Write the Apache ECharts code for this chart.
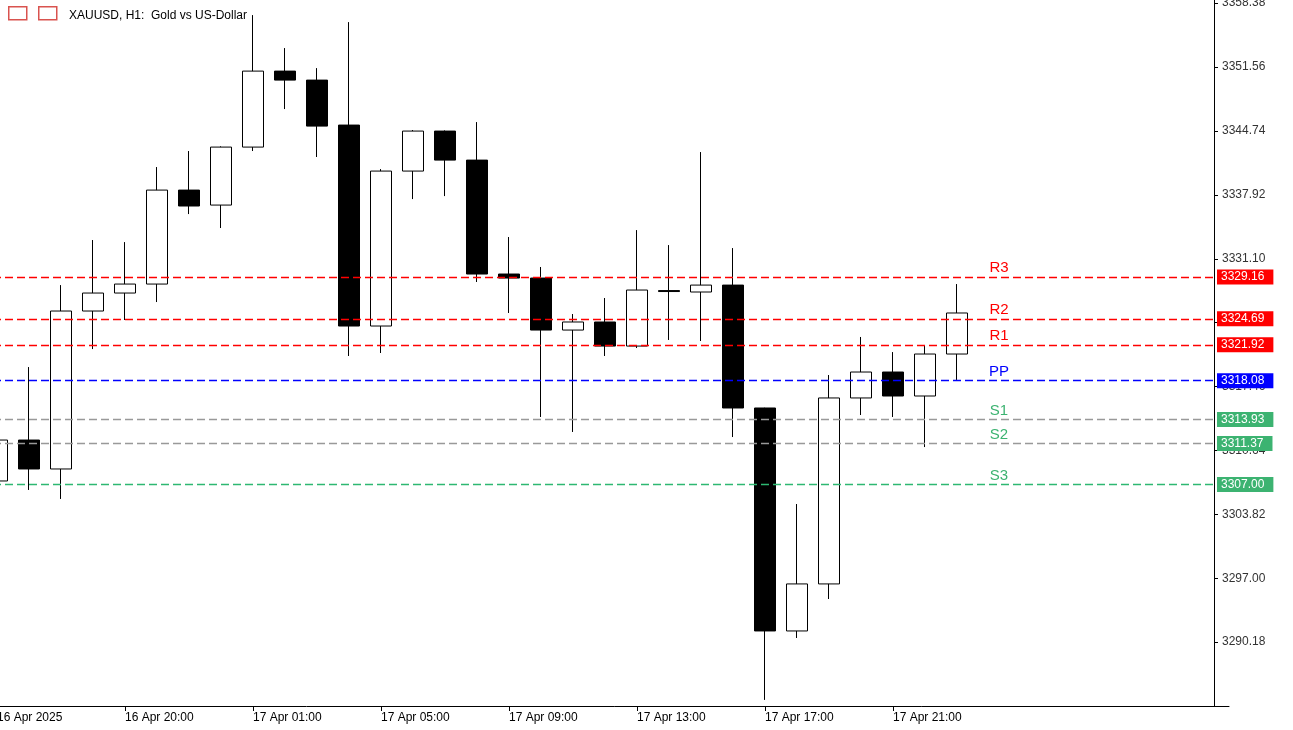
<!DOCTYPE html>
<html><head><meta charset="utf-8">
<script src="https://cdn.jsdelivr.net/npm/echarts@6/dist/echarts.min.js"></script>
<style>html,body{margin:0;padding:0;background:#fff}#c{width:1293px;height:730px}</style>
</head><body><div id="c"></div>
<script>
const categories = ['16 Apr 16:00','16 Apr 17:00','16 Apr 18:00','16 Apr 19:00','16 Apr 20:00','16 Apr 21:00','16 Apr 22:00','16 Apr 23:00',
 '17 Apr 01:00','17 Apr 02:00','17 Apr 03:00','17 Apr 04:00','17 Apr 05:00','17 Apr 06:00','17 Apr 07:00','17 Apr 08:00',
 '17 Apr 09:00','17 Apr 10:00','17 Apr 11:00','17 Apr 12:00','17 Apr 13:00','17 Apr 14:00','17 Apr 15:00','17 Apr 16:00',
 '17 Apr 17:00','17 Apr 18:00','17 Apr 19:00','17 Apr 20:00','17 Apr 21:00','17 Apr 22:00','17 Apr 23:00'];
const tickLabels = {0:'16 Apr 2025',4:'16 Apr 20:00',8:'17 Apr 01:00',12:'17 Apr 05:00',16:'17 Apr 09:00',20:'17 Apr 13:00',24:'17 Apr 17:00',28:'17 Apr 21:00'};
// [open, close, low, high]
const ohlc = [
 [3307.38,3311.75,3307.2,3311.9],
 [3311.75,3308.66,3306.42,3319.54],
 [3308.66,3325.52,3305.46,3328.29],
 [3325.52,3327.44,3321.46,3333.10],
 [3327.44,3328.40,3324.56,3332.88],
 [3328.40,3338.43,3326.48,3340.89],
 [3338.43,3336.73,3335.87,3342.60],
 [3336.83,3343.02,3334.38,3343.10],
 [3343.02,3351.13,3342.60,3357.11],
 [3351.13,3350.17,3347.08,3353.59],
 [3350.17,3345.26,3341.96,3351.45],
 [3345.37,3323.92,3320.72,3356.36],
 [3323.92,3340.46,3321.04,3340.67],
 [3340.46,3344.73,3337.47,3344.84],
 [3344.73,3341.63,3337.79,3344.80],
 [3341.63,3329.47,3328.62,3345.69],
 [3329.47,3329.04,3325.31,3333.42],
 [3329.04,3323.49,3314.21,3330.22],
 [3323.49,3324.35,3312.61,3325.20],
 [3324.35,3321.78,3320.72,3326.91],
 [3321.78,3327.76,3321.57,3334.16],
 [3327.70,3327.60,3322.43,3332.56],
 [3327.55,3328.29,3322.32,3342.49],
 [3328.29,3315.17,3312.07,3332.24],
 [3315.17,3291.37,3284.01,3315.20],
 [3291.37,3296.39,3290.62,3304.92],
 [3296.39,3316.24,3294.78,3318.69],
 [3316.24,3319.01,3314.42,3322.75],
 [3319.01,3316.45,3314.21,3321.14],
 [3316.45,3320.93,3311.00,3321.89],
 [3320.93,3325.31,3318.16,3328.40]
];
const levelNames = ['R3','R2','R1','PP','S1','S2','S3'];
const levelValues = [3329.16,3324.69,3321.92,3318.08,3313.93,3311.37,3307.00];
const levelLine = ['#ff0000','#ff0000','#ff0000','#0000ff','#999999','#999999','#2eb872'];
const levelText = ['#ff0000','#ff0000','#ff0000','#0000ff','#3cb371','#3cb371','#3cb371'];
const levelTag = ['#ff0000','#ff0000','#ff0000','#0000ff','#3cb371','#3cb371','#3cb371'];

const allCats = categories.concat(Array.from({length:8},(_,i)=>'pad'+i));
const chart = echarts.init(document.getElementById('c'));
const levelSeries = levelValues.map((v,i)=>({
 type:'line',data:[],silent:true,color:levelLine[i],
 markLine:{symbol:'none',silent:true,animation:false,
  lineStyle:{color:levelLine[i],type:[8,4],width:1.3},
  emphasis:{disabled:true},
  data:[{yAxis:v,lineStyle:{color:levelLine[i]},label:{show:true,position:'end',distance:-12,formatter:v.toFixed(2),color:'#fff',backgroundColor:levelTag[i],padding:[2,9,1,4],fontSize:12,fontFamily:'Liberation Sans'}}]}
}));
chart.setOption({
 animation:false,
 title:{text:'XAUUSD, H1:  Gold vs US-Dollar',left:64,top:5,textStyle:{fontSize:12,fontWeight:'normal',color:'#000',fontFamily:'Liberation Sans'}},
 graphic:[
  {type:'rect',left:8,top:6,shape:{width:18,height:13},style:{fill:'#fff',stroke:'#d9534f',lineWidth:1.5}},
  {type:'rect',left:38,top:6,shape:{width:18,height:13},style:{fill:'#fff',stroke:'#d9534f',lineWidth:1.5}}
 ],
 grid:{left:-19,top:0,width:39*32,bottom:24,containLabel:false,outerBoundsMode:'none'},
 xAxis:{type:'category',data:allCats,boundaryGap:true,
  axisLine:{lineStyle:{color:'#000'}},
  axisTick:{show:true,alignWithLabel:true,interval:(i)=>tickLabels[i]!==undefined,lineStyle:{color:'#000'}},
  axisLabel:{interval:(i)=>tickLabels[i]!==undefined,formatter:(v,i)=>tickLabels[i]||'',align:'left',color:'#000',fontSize:12,fontFamily:'Liberation Sans',margin:6},
  splitLine:{show:false}},
 yAxis:{type:'value',position:'right',offset:-15,min:3283.36,max:3358.72,interval:6.82,
  axisLine:{show:true,lineStyle:{color:'#000'}},
  axisTick:{show:true,inside:false,length:4,lineStyle:{color:'#000'}},
  axisLabel:{showMinLabel:false,showMaxLabel:false,formatter:v=>v.toFixed(2),color:'#333',fontSize:12,fontFamily:'Liberation Sans',margin:8},
  splitLine:{show:false}},
 series:[{
  type:'candlestick',data:ohlc,barWidth:22,
  itemStyle:{color:'#fff',color0:'#000',borderColor:'#000',borderColor0:'#000',borderWidth:1},
  markPoint:{symbol:'circle',symbolSize:0,silent:true,
   data:levelValues.map((v,i)=>({coord:[31,v],label:{show:true,formatter:levelNames[i],color:levelText[i],fontSize:15,fontFamily:'Liberation Sans',offset:[10,-9]}}))}
 }].concat(levelSeries)
});
</script></body></html>
